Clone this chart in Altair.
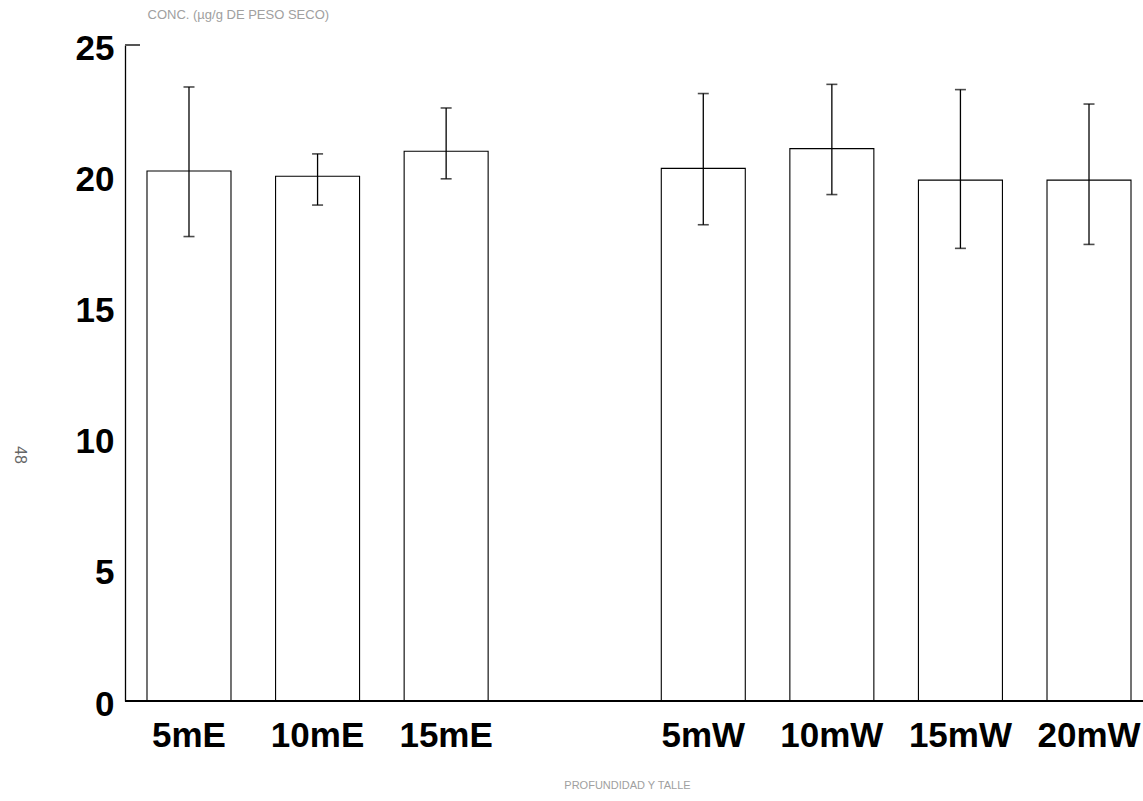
import altair as alt
import pandas as pd

# Sample sites (depth + side) and mean concentration with its spread
sites = ["5mE", "10mE", "15mE", "5mW", "10mW", "15mW", "20mW"]
means = [20.2, 20.0, 20.95, 20.3, 21.05, 19.85, 19.85]
lows = [17.7, 18.9, 19.9, 18.15, 19.3, 17.25, 17.4]
highs = [23.4, 20.85, 22.6, 23.15, 23.5, 23.3, 22.75]

# x slots: an empty slot separates the E and W groups
slots = ["5mE", "10mE", "15mE", " ", "5mW", "10mW", "15mW", "20mW"]
page_number = ["48"]

df = pd.DataFrame({"site": sites, "conc": means, "lo": lows, "hi": highs})

FONT = "Liberation Sans"
W, H = 1008, 656

x_scale = alt.Scale(domain=slots, paddingInner=0.3467, paddingOuter=0.0933)

x = alt.X(
    "site:N",
    sort=slots,
    scale=x_scale,
    axis=alt.Axis(
        title="PROFUNDIDAD Y TALLE",
        titleFont=FONT, titleFontSize=11, titleFontWeight="normal",
        titleColor="#a0a0a0", titlePadding=26, titleX=492,
        labelFont=FONT, labelFontSize=35, labelFontWeight="bold",
        labelColor="black", labelPadding=17, labelAngle=0,
        ticks=False, domain=False, grid=False,
    ),
)

y_axis = alt.Axis(
    title="CONC. (\u00b5g/g DE PESO SECO)",
    titleAngle=0, titleAlign="left", titleBaseline="middle",
    titleX=22, titleY=-31,
    titleFont=FONT, titleFontSize=13, titleFontWeight="normal",
    titleColor="#a0a0a0",
    labelFont=FONT, labelFontSize=35, labelFontWeight="bold",
    labelColor="black", labelPadding=11, labelOffset=3,
    values=[0, 5, 10, 15, 20, 25], ticks=False, grid=False,
    domainColor="black", domainWidth=1.3, offset=10,
)

y = alt.Y("conc:Q", scale=alt.Scale(domain=[0, 25], nice=False), axis=y_axis)

bars = alt.Chart(df).mark_bar(
    fill="white", stroke="black", strokeWidth=1.1
).encode(x=x, y=y)

xs = alt.X("site:N", sort=slots, scale=x_scale)

whisk = alt.Chart(df).mark_rule(color="black", strokeWidth=1.3).encode(
    x=xs, y="lo:Q", y2="hi:Q",
)

cap_hi = alt.Chart(df).mark_tick(color="black", thickness=1.6, size=11).encode(
    x=xs, y="hi:Q"
)
cap_lo = alt.Chart(df).mark_tick(color="black", thickness=1.6, size=11).encode(
    x=xs, y="lo:Q"
)

# baseline running across the full width
base = alt.Chart(df).mark_rule(color="black", strokeWidth=1.3).encode(
    x=alt.value(-10), x2=alt.value(W), y=alt.value(H)
)

# short stub at the top of the value axis
stub = alt.Chart(df).mark_rule(color="#555555", strokeWidth=1).encode(
    x=alt.value(-10), x2=alt.value(5), y=alt.value(0)
)

page = alt.Chart(pd.DataFrame({"t": page_number})).mark_text(
    angle=90, font=FONT, fontSize=16, color="#666666"
).encode(text="t:N", x=alt.value(-115), y=alt.value(410))

chart = (
    alt.layer(bars, whisk, cap_hi, cap_lo, base, stub, page)
    .properties(
        width=W, height=H,
        autosize=alt.AutoSizeParams(type="none"),
        padding={"left": 135, "top": 45, "right": 0, "bottom": 100},
        view=alt.ViewBackground(stroke="transparent", strokeWidth=0),
    )
    .configure_view(stroke="transparent", strokeWidth=0)
    .configure_axis(grid=False)
    .configure(background="white")
)

chart.save("out.html", embed_options={"renderer": "svg", "actions": False})
